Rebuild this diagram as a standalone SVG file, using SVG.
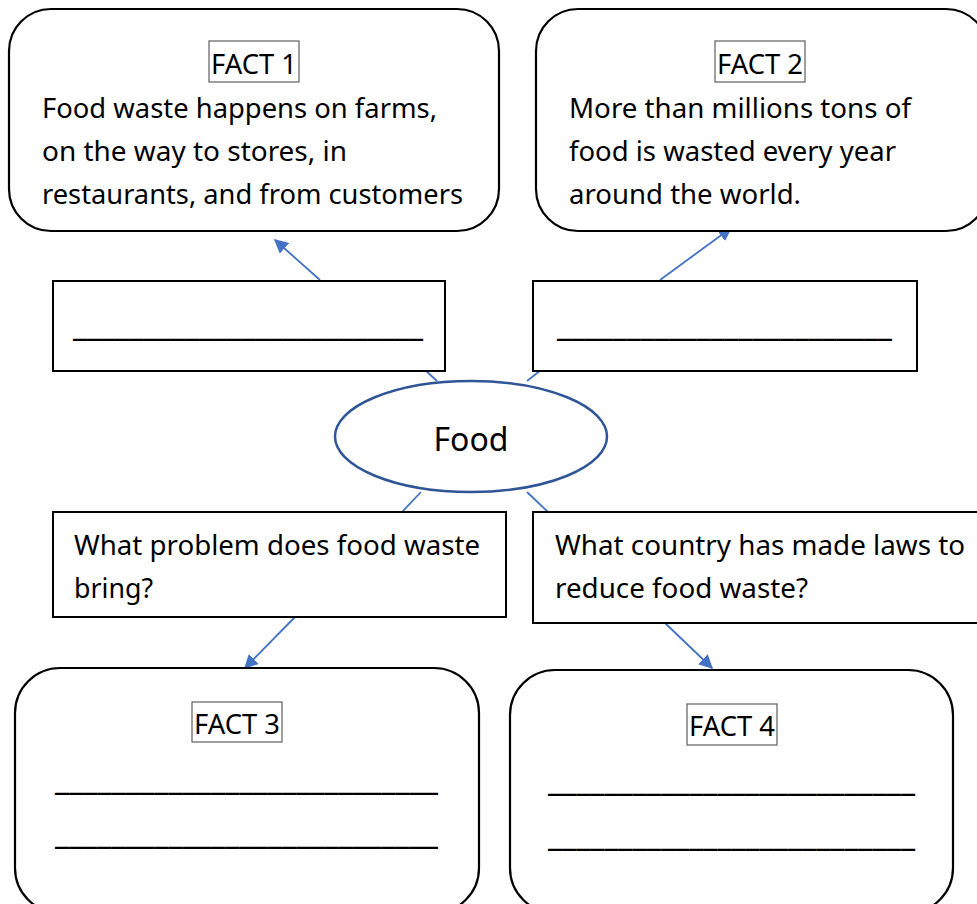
<svg xmlns="http://www.w3.org/2000/svg" width="977" height="904" viewBox="0 0 977 904">
<style>
.fact{fill:#fff;stroke:#000;stroke-width:2.2}
.box{fill:#fff;stroke:#000;stroke-width:2}
.lbl{fill:#fff;stroke:#6b6b6b;stroke-width:1.3}
.t{font-family:"Noto Sans","Open Sans",sans-serif;font-size:27px;fill:#000}
.tl{font-family:"Noto Sans","Open Sans",sans-serif;font-size:28px;fill:#000}
.u{font-family:"Noto Sans","Open Sans",sans-serif;font-size:34px;fill:#000}
.c{stroke:#4472C4;stroke-width:1.8;fill:none}
</style>
<defs>
<marker id="ahb" viewBox="0 0 10 10" refX="9" refY="5" markerWidth="14" markerHeight="14" markerUnits="userSpaceOnUse" orient="auto">
<path d="M0,0 L10,5 L0,10 z" fill="#4472C4"/>
</marker>
</defs>
<g id="connectors">
<line class="c" x1="320" y1="280" x2="275" y2="240" marker-end="url(#ahb)"/>
<line class="c" x1="660" y1="280" x2="731" y2="228" marker-end="url(#ahb)"/>
<line class="c" x1="437" y1="381" x2="425" y2="370"/>
<line class="c" x1="527" y1="381" x2="541" y2="370"/>
<line class="c" x1="421" y1="492" x2="402" y2="512"/>
<line class="c" x1="527" y1="492" x2="548" y2="512"/>
<line class="c" x1="295" y1="617" x2="245" y2="668" marker-end="url(#ahb)"/>
<line class="c" x1="665" y1="623" x2="712" y2="668" marker-end="url(#ahb)"/>
</g>
<g id="fact1">
<rect class="fact" x="9" y="9" width="490" height="222" rx="42"/>
<rect class="lbl" x="209" y="41" width="90" height="41"/>
<text class="tl" x="211" y="74" textLength="86" lengthAdjust="spacingAndGlyphs">FACT 1</text>
<text class="t" x="42" y="118" textLength="395" lengthAdjust="spacingAndGlyphs">Food waste happens on farms,</text>
<text class="t" x="42" y="161" textLength="305" lengthAdjust="spacingAndGlyphs">on the way to stores, in</text>
<text class="t" x="42" y="204" textLength="421" lengthAdjust="spacingAndGlyphs">restaurants, and from customers</text>
</g>
<g id="fact2">
<rect class="fact" x="536" y="9" width="452" height="222" rx="42"/>
<rect class="lbl" x="715" y="41" width="90" height="41"/>
<text class="tl" x="717" y="74" textLength="86" lengthAdjust="spacingAndGlyphs">FACT 2</text>
<text class="t" x="569" y="118" textLength="342" lengthAdjust="spacingAndGlyphs">More than millions tons of</text>
<text class="t" x="569" y="161" textLength="327" lengthAdjust="spacingAndGlyphs">food is wasted every year</text>
<text class="t" x="569" y="204" textLength="232" lengthAdjust="spacingAndGlyphs">around the world.</text>
</g>
<g id="blank1">
<rect class="box" x="53" y="281" width="392" height="90"/>
<text class="u" x="73" y="336" textLength="350" lengthAdjust="spacingAndGlyphs">_________________________</text>
</g>
<g id="blank2">
<rect class="box" x="533" y="281" width="384" height="90"/>
<text class="u" x="557" y="336" textLength="335" lengthAdjust="spacingAndGlyphs">________________________</text>
</g>
<g id="food">
<ellipse cx="471" cy="436.5" rx="136" ry="55.5" fill="#fff" stroke="#2F5597" stroke-width="2.5"/>
<text x="471" y="451" text-anchor="middle" font-family="Noto Sans, Open Sans, sans-serif" font-size="32" fill="#000">Food</text>
</g>
<g id="question1">
<rect class="box" x="53" y="512" width="453" height="105"/>
<text class="t" x="74" y="555" textLength="406" lengthAdjust="spacingAndGlyphs">What problem does food waste</text>
<text class="t" x="74" y="598" textLength="79" lengthAdjust="spacingAndGlyphs">bring?</text>
</g>
<g id="question2">
<rect class="box" x="533" y="512" width="450" height="111"/>
<text class="t" x="555" y="555" textLength="410" lengthAdjust="spacingAndGlyphs">What country has made laws to</text>
<text class="t" x="555" y="598" textLength="253" lengthAdjust="spacingAndGlyphs">reduce food waste?</text>
</g>
<g id="fact3">
<rect class="fact" x="15" y="668" width="464" height="245" rx="45"/>
<rect class="lbl" x="192" y="702" width="90" height="40"/>
<text class="tl" x="194" y="734" textLength="86" lengthAdjust="spacingAndGlyphs">FACT 3</text>
<text class="u" x="55" y="790" textLength="383" lengthAdjust="spacingAndGlyphs">___________________________</text>
<text class="u" x="55" y="844" textLength="383" lengthAdjust="spacingAndGlyphs">___________________________</text>
</g>
<g id="fact4">
<rect class="fact" x="510" y="670" width="443" height="243" rx="45"/>
<rect class="lbl" x="687" y="704" width="90" height="41"/>
<text class="tl" x="689" y="736" textLength="86" lengthAdjust="spacingAndGlyphs">FACT 4</text>
<text class="u" x="548" y="791" textLength="367" lengthAdjust="spacingAndGlyphs">__________________________</text>
<text class="u" x="548" y="846" textLength="367" lengthAdjust="spacingAndGlyphs">__________________________</text>
</g>
</svg>
